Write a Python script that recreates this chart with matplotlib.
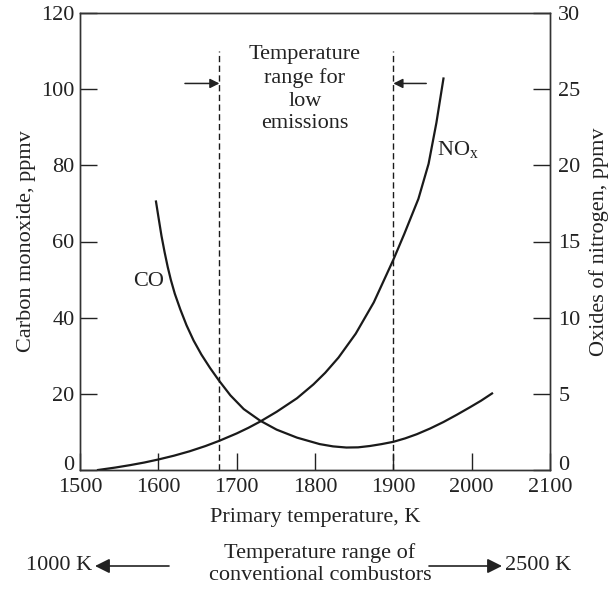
import matplotlib
matplotlib.use("Agg")
import matplotlib.pyplot as plt
from matplotlib.patches import FancyArrowPatch
from matplotlib.transforms import ScaledTranslation

plt.rcParams['font.family'] = ['Liberation Serif', 'DejaVu Serif']
plt.rcParams['mathtext.fontset'] = 'custom'
plt.rcParams['mathtext.rm'] = 'Liberation Serif'
plt.rcParams['font.size'] = 16

# CO (left axis, ppmv) vs primary temperature (K)
co_temp = [1597, 1600, 1604, 1608, 1612, 1616, 1621, 1628, 1636, 1645,
           1655, 1666, 1677, 1692, 1709, 1730, 1751, 1777, 1806, 1823,
           1840, 1855, 1870, 1885, 1900, 1915, 1930, 1947, 1964, 1981,
           1998, 2012, 2026]
co_ppmv = [70.5, 66.6, 61.5, 57.2, 53.3, 49.9, 46.3, 42.2, 38.0, 34.0,
           30.3, 26.8, 23.6, 19.6, 16.0, 12.95, 10.6, 8.5, 6.8, 6.2,
           5.9, 5.95, 6.3, 6.8, 7.4, 8.3, 9.4, 10.9, 12.6, 14.5,
           16.5, 18.2, 20.1]

# NOx (right axis, ppmv) vs primary temperature (K)
nox_temp = [1523, 1545, 1564, 1582, 1600, 1620, 1640, 1660, 1678, 1700,
            1715, 1730, 1751, 1777, 1798, 1813, 1830, 1852, 1875, 1900,
            1914, 1932, 1945, 1955, 1964]
nox_ppmv = [0.0, 0.16, 0.32, 0.49, 0.69, 0.94, 1.23, 1.57, 1.92, 2.40,
            2.77, 3.18, 3.82, 4.71, 5.62, 6.38, 7.38, 8.95, 11.0, 13.8,
            15.5, 17.8, 20.1, 22.8, 25.7]

low_emission_range = [1678, 1900]
x_ticks = [1500, 1600, 1700, 1800, 1900, 2000, 2100]
co_ticks = [0, 20, 40, 60, 80, 100, 120]
nox_ticks = [0, 5, 10, 15, 20, 25, 30]

ink = '#222222'

fig = plt.figure(figsize=(6.09, 5.89), dpi=100)
ax = fig.add_axes([80 / 609, 1 - 470 / 589, 470 / 609, 457 / 589])
ax2 = ax.twinx()

ax.plot(co_temp, co_ppmv, color='#1a1a1a', lw=1.6)
ax2.plot(nox_temp, nox_ppmv, color='#1a1a1a', lw=1.6)

for t in low_emission_range:
    ax.plot([t, t], [0, 110], color='#1a1a1a', lw=1.0, dashes=(4.5, 2.5))

ax.set_xlim(1500, 2100)
ax.set_ylim(0, 120)
ax2.set_ylim(0, 30)
ax.set_xticks(x_ticks)
ax.set_yticks(co_ticks)
ax2.set_yticks(nox_ticks)

ax.tick_params(axis='x', direction='in', length=12, width=1.0, pad=6,
               colors=ink)
ax.tick_params(axis='y', direction='in', length=12.5, width=1.0, pad=4,
               colors=ink)
ax2.tick_params(axis='y', direction='in', length=12, width=1.0, pad=6,
                colors=ink)
for a in (ax, ax2):
    for s in a.spines.values():
        s.set_color('#333333')
        s.set_linewidth(1.0)

# lift the two "0" labels a little so they clear the x tick labels
lift = ScaledTranslation(0, 5 / 72, fig.dpi_scale_trans)
for lab in (ax.yaxis.get_major_ticks()[0].label1,
            ax2.yaxis.get_major_ticks()[0].label2):
    lab.set_transform(lab.get_transform() + lift)

ax.set_xlabel('Primary temperature, K', labelpad=8, color=ink)
ax.set_ylabel('Carbon monoxide, ppmv', labelpad=4, color=ink)
ax2.set_ylabel('Oxides of nitrogen, ppmv', labelpad=6, color=ink)

# curve labels
ax.text(1587, 49.5, 'CO', ha='center', va='center', color=ink)
ax.text(1983, 84, r'NO$_\mathrm{x}$', ha='center', va='center', color=ink)

# low-emission window
ax.text(1787, 100, 'Temperature\nrange for\nlow\nemissions',
        ha='center', va='center', linespacing=1.27, color=ink)
arrow = dict(arrowstyle='-|>', color=ink, lw=1.1, mutation_scale=14,
             shrinkA=0, shrinkB=0)
ax.annotate('', xy=(low_emission_range[0], 101.5), xytext=(1634, 101.5),
            arrowprops=arrow)
ax.annotate('', xy=(low_emission_range[1], 101.5), xytext=(1942, 101.5),
            arrowprops=arrow)

# conventional combustor range below the axes
fig.text(320 / 609, 1 - 564 / 589,
         'Temperature range of\nconventional combustors',
         ha='center', va='center', linespacing=1.2, color=ink)
fig.text(92 / 609, 1 - 565 / 589, '1000 K', ha='right', va='center',
         color=ink)
fig.text(505 / 609, 1 - 565 / 589, '2500 K', ha='left', va='center',
         color=ink)
big_arrow = dict(arrowstyle='-|>', color=ink, lw=1.2,
                 mutation_scale=22, shrinkA=0, shrinkB=0)
fig.add_artist(FancyArrowPatch((169 / 609, 1 - 566 / 589),
                               (95 / 609, 1 - 566 / 589),
                               transform=fig.transFigure, **big_arrow))
fig.add_artist(FancyArrowPatch((429 / 609, 1 - 566 / 589),
                               (502 / 609, 1 - 566 / 589),
                               transform=fig.transFigure, **big_arrow))

fig.savefig('out.png', dpi=100, facecolor='white')
